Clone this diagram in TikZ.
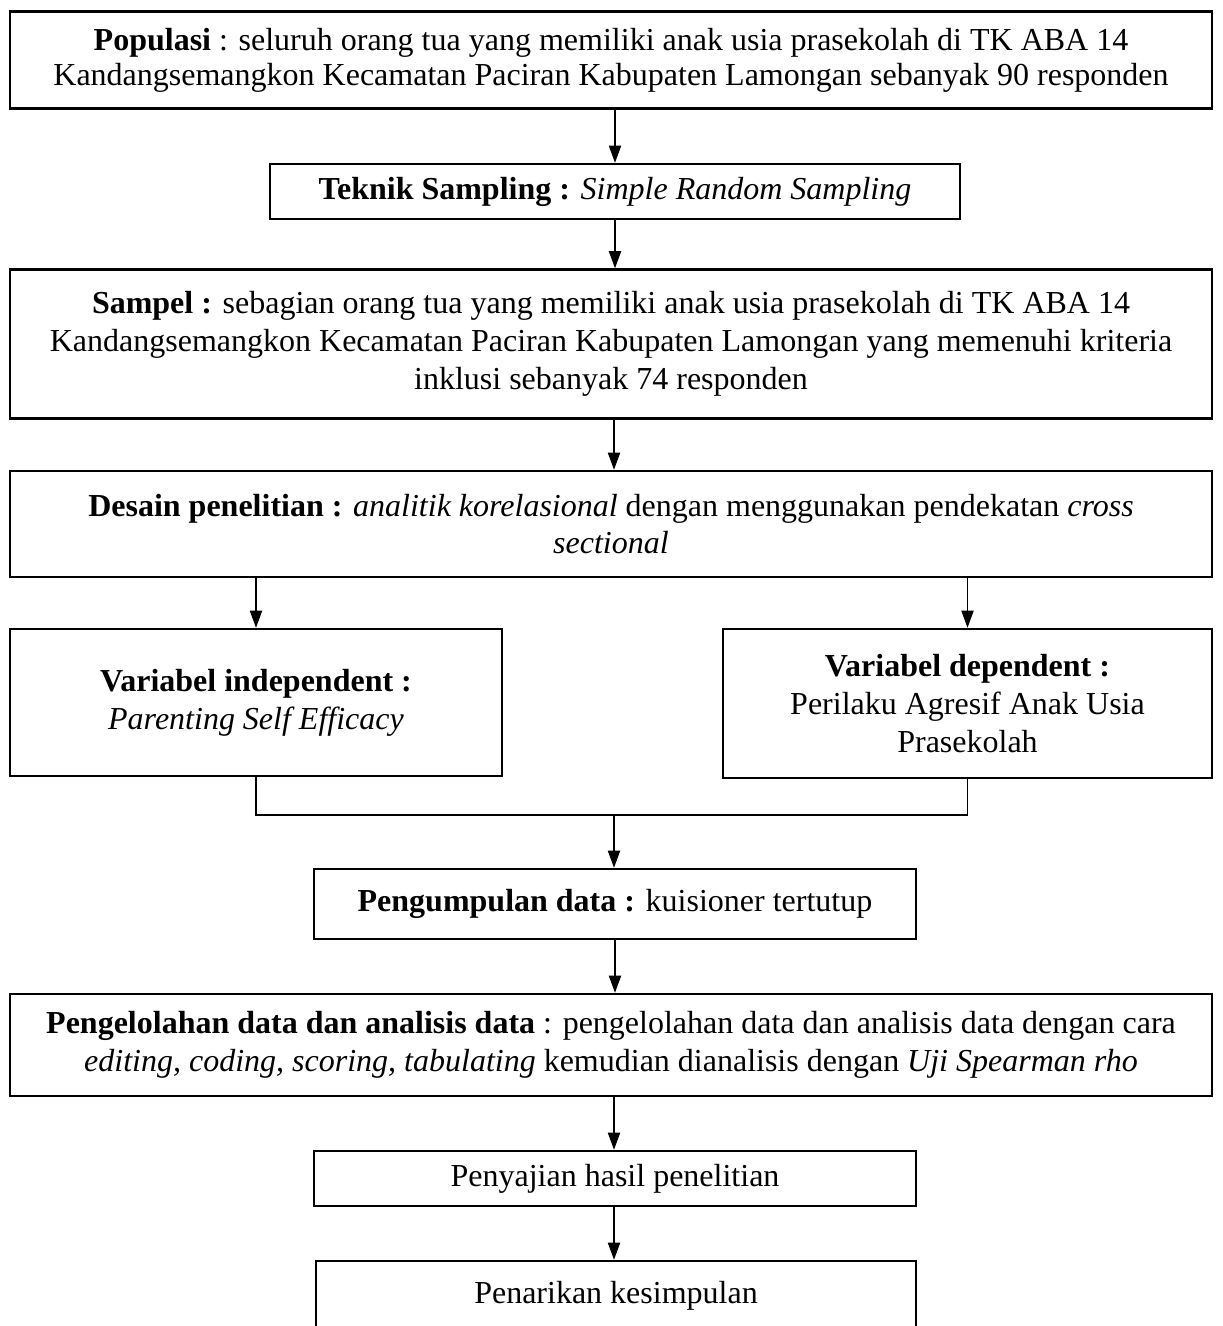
\documentclass[tikz,border=0pt]{standalone}
\usepackage{fontspec}
\setmainfont{Liberation Serif}
\usetikzlibrary{arrows.meta}
\begin{document}
\begin{tikzpicture}[x=0.375pt,y=-0.375pt,
  box/.style={draw, line width=0.95pt, align=center, inner sep=0pt, font=\fontsize{12pt}{14.2pt}\selectfont},
  arr/.style={line width=0.4pt, -{Triangle[length=6.4pt,width=4.6pt]}},
  conn/.style={line width=0.4pt}]
\useasboundingbox (0,0) rectangle (1222,1326);
\node[box, minimum width=1202*0.375pt, minimum height=97*0.375pt, font=\fontsize{12pt}{13.2pt}\selectfont] (b1) at (611,60)
  {\textbf{Populasi} : seluruh orang tua yang memiliki anak usia prasekolah di TK ABA 14\\ Kandangsemangkon Kecamatan Paciran Kabupaten Lamongan sebanyak 90 responden};
\node[box, minimum width=690*0.375pt, minimum height=55*0.375pt] (b2) at (615,191.5)
  {\textbf{Teknik Sampling :} \textit{Simple Random Sampling}};
\node[box, minimum width=1202*0.375pt, minimum height=149*0.375pt] (b3) at (611,344)
  {\textbf{Sampel :} sebagian orang tua yang memiliki anak usia prasekolah di TK ABA 14\\ Kandangsemangkon Kecamatan Paciran Kabupaten Lamongan yang memenuhi kriteria\\ inklusi sebanyak 74 responden};
\node[box, minimum width=1202*0.375pt, minimum height=106*0.375pt] (b4) at (611,524)
  {\textbf{Desain penelitian :} \textit{analitik korelasional} dengan menggunakan pendekatan \textit{cross}\\ \textit{sectional}};
\node[box, minimum width=492*0.375pt, minimum height=147*0.375pt] (b5) at (256,702.5)
  {\textbf{Variabel independent :}\\ \textit{Parenting Self Efficacy}};
\node[box, minimum width=489*0.375pt, minimum height=149*0.375pt] (b6) at (967.5,703.5)
  {\textbf{Variabel dependent :}\\ Perilaku Agresif Anak Usia\\ Prasekolah};
\node[box, minimum width=602*0.375pt, minimum height=70*0.375pt] (b7) at (615,904)
  {\textbf{Pengumpulan data :} kuisioner tertutup};
\node[box, minimum width=1202*0.375pt, minimum height=102*0.375pt] (b8) at (611,1045)
  {\textbf{Pengelolahan data dan analisis data} : pengelolahan data dan analisis data dengan cara\\ \textit{editing, coding, scoring, tabulating} kemudian dianalisis dengan \textit{Uji Spearman rho}};
\node[box, minimum width=602*0.375pt, minimum height=55*0.375pt] (b9) at (615,1178.5)
  {Penyajian hasil penelitian};
\node[box, minimum width=600*0.375pt, minimum height=70*0.375pt] (b10) at (616,1296)
  {Penarikan kesimpulan};
\coordinate (j) at (614,815);
\draw[arr] (b1.south -| b2.north) -- (b2.north);
\draw[arr] (b2.south) -- (b2.south |- b3.north);
\draw[arr] (b3.south -| j) -- (b4.north -| j);
\draw[arr] (b4.south -| b5.north) -- (b5.north);
\draw[arr] (b4.south -| b6.north) -- (b6.north);
\draw[conn] (b5.south) -- (b5.south |- j) -- (b6.south |- j) -- (b6.south);
\draw[arr] (j) -- (b7.north -| j);
\draw[arr] (b7.south) -- (b7.south |- b8.north);
\draw[arr] (b8.south -| j) -- (b9.north -| j);
\draw[arr] (b9.south -| j) -- (b10.north -| j);
\end{tikzpicture}
\end{document}
